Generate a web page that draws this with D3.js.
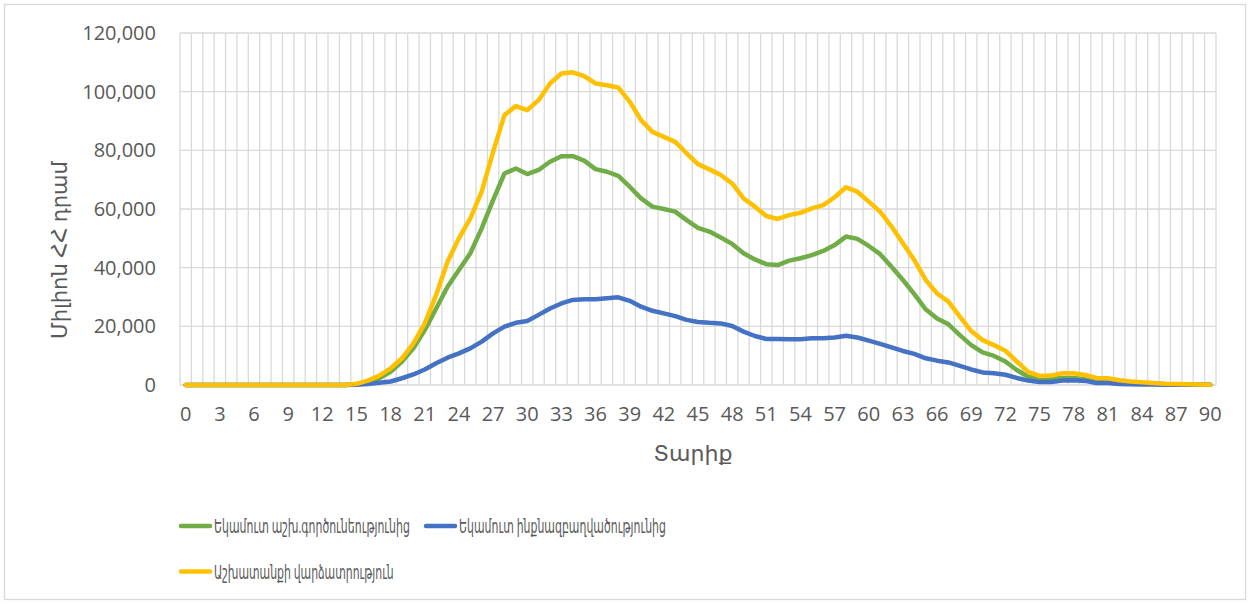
<!DOCTYPE html>
<html>
<head>
<meta charset="utf-8">
<script src="https://cdn.jsdelivr.net/npm/d3@7"></script>
<style>
  body { margin: 0; background: #fff; }
  svg { display: block; font-family: "Open Sans", "DejaVu Sans", sans-serif; }
</style>
</head>
<body>
<svg width="1250" height="604"></svg>
<script>
// categories: age 0..90
const ages = d3.range(0, 91);
const yTicks = [0, 20000, 40000, 60000, 80000, 100000, 120000];
const xTickAges = d3.range(0, 91, 3);

const seriesNames = [
    "Եկամուտ աշխ.գործունեությունից",
    "Եկամուտ ինքնազբաղվածությունից",
    "Աշխատանքի վարձատրություն"
];
const seriesColors = ["#70AD47", "#4472C4", "#FFC000"];

// wage employment income (green)
const wageIncome = [
    0, 0, 0, 0, 0, 0, 0, 0, 0, 0, 0, 0, 0, 0, 0,
    300, 1100, 2300, 4500, 8000, 12500, 18700, 26100, 33500, 39200,
    44900, 53400, 63000, 72100, 73800, 71900, 73300, 76100, 78000, 78000,
    76500, 73600, 72700, 71300, 67600, 63600, 60800, 60000, 59100, 56200,
    53600, 52300, 50300, 48100, 44900, 42800, 41200, 40900, 42400, 43200,
    44300, 45700, 47700, 50600, 49800, 47400, 44600, 40300, 35800, 31000,
    25800, 22700, 20700, 17000, 13600, 11100, 9900, 8000, 5100, 2800,
    1900, 2100, 2400, 2400, 2000, 1700, 1600, 1200, 1000, 700,
    500, 300, 200, 150, 100, 50
];

// self-employment income (blue)
const selfIncome = [
    0, 0, 0, 0, 0, 0, 0, 0, 0, 0, 0, 0, 0, 0, 0,
    50, 300, 800, 1200, 2300, 3600, 5300, 7400, 9300, 10800,
    12500, 14800, 17600, 19900, 21200, 21800, 23900, 26100, 27800, 29000,
    29200, 29200, 29600, 29900, 28700, 26700, 25300, 24400, 23500, 22200,
    21500, 21200, 21000, 20100, 18200, 16700, 15700, 15700, 15600, 15600,
    15900, 15900, 16200, 16800, 16200, 15100, 14000, 12800, 11600, 10600,
    9100, 8300, 7700, 6500, 5300, 4300, 4000, 3500, 2400, 1500,
    1000, 1000, 1500, 1600, 1400, 700, 700, 350, 250, 200,
    150, 100, 100, 80, 50, 50
];

// labour compensation (yellow)
const labourPay = [
    0, 0, 0, 0, 0, 0, 0, 0, 0, 0, 0, 0, 0, 0, 0,
    400, 1500, 3200, 5700, 9100, 14200, 21000, 30700, 42000, 50000,
    56800, 65900, 79500, 92000, 95100, 93700, 97100, 102800, 106200, 106600,
    105300, 102800, 102200, 101400, 96600, 90300, 86300, 84600, 82900, 79000,
    75300, 73500, 71600, 68700, 63600, 60800, 57600, 56600, 57900, 58700,
    60200, 61300, 64000, 67400, 65900, 62500, 59100, 54000, 48300, 42600,
    35800, 31200, 28400, 23300, 18400, 15300, 13600, 11700, 8000, 4500,
    3100, 3200, 4000, 4000, 3400, 2400, 2300, 1600, 1200, 900,
    700, 450, 350, 250, 150, 100
];

const seriesValues = [wageIncome, selfIncome, labourPay];

const plotLeft = 180, plotRight = 1216, plotTop = 33, plotBottom = 385;
const textColor = "#595959";
const gridColor = "#d9d9d9";

const svg = d3.select("svg");

// chart border
svg.append("rect")
    .attr("x", 4.5).attr("y", 4.5)
    .attr("width", 1241).attr("height", 595)
    .attr("fill", "#fff")
    .attr("stroke", gridColor)
    .attr("stroke-width", 1.3);

const x = d3.scaleBand()
    .domain(ages)
    .range([plotLeft, plotRight])
    .padding(0);
const xc = a => x(a) + x.bandwidth() / 2;

const y = d3.scaleLinear()
    .domain([0, 120000])
    .range([plotBottom, plotTop]);

// vertical gridlines at category edges
const edges = ages.map(a => x(a)).concat([plotRight]);
svg.append("g")
    .selectAll("line")
    .data(edges)
    .enter().append("line")
    .attr("x1", d => d).attr("x2", d => d)
    .attr("y1", plotTop).attr("y2", plotBottom)
    .attr("stroke", gridColor)
    .attr("stroke-width", 1.3);

// horizontal gridlines
svg.append("g")
    .selectAll("line")
    .data(yTicks)
    .enter().append("line")
    .attr("x1", plotLeft).attr("x2", plotRight)
    .attr("y1", d => y(d)).attr("y2", d => y(d))
    .attr("stroke", gridColor)
    .attr("stroke-width", 1.3);

// Y axis labels
const yAxisCall = d3.axisLeft(y)
    .tickValues(yTicks)
    .tickSize(0)
    .tickPadding(24)
    .tickFormat(d3.format(","));
const gy = svg.append("g")
    .attr("transform", `translate(${plotLeft}, 0)`)
    .call(yAxisCall)
    .attr("font-family", null);
gy.select(".domain").remove();
gy.selectAll("text")
    .attr("font-size", "20px")
    .attr("fill", textColor);

// X axis labels
const xAxisCall = d3.axisBottom(x)
    .tickValues(xTickAges)
    .tickSize(0)
    .tickPadding(22);
const gx = svg.append("g")
    .attr("transform", `translate(0, ${plotBottom})`)
    .call(xAxisCall)
    .attr("font-family", null);
gx.select(".domain").remove();
gx.selectAll("text")
    .attr("font-size", "20px")
    .attr("fill", textColor);

// squeeze a text horizontally to a given width (armenian fallback font is wide)
function fitText(sel, tx, ty, targetW, rotate) {
    const w = sel.node().getComputedTextLength();
    const k = targetW / w;
    sel.attr("transform", `translate(${tx}, ${ty})` + (rotate ? " rotate(-90)" : "") + ` scale(${k}, 1)`);
}

// Y title
const yTitle = svg.append("text")
    .attr("text-anchor", "middle")
    .attr("font-size", "21px")
    .attr("fill", textColor)
    .text("Միլիոն ՀՀ դրամ");
fitText(yTitle, 67, 250, 178, true);

// X title
const xTitle = svg.append("text")
    .attr("text-anchor", "middle")
    .attr("font-size", "21px")
    .attr("fill", textColor)
    .text("Տարիք");
fitText(xTitle, 693, 461, 79, false);

// lines
const line = d3.line()
    .x((d, i) => xc(ages[i]))
    .y(d => y(d));

seriesValues.forEach((vals, i) => {
    svg.append("path")
        .datum(vals)
        .attr("d", line)
        .attr("fill", "none")
        .attr("stroke", seriesColors[i])
        .attr("stroke-width", 4.5)
        .attr("stroke-linejoin", "round")
        .attr("stroke-linecap", "round");
});

// legend
const legendPos = [[181, 526], [426, 526], [181, 571.5]];
const legendTextWidth = [196, 207, 180];
seriesNames.forEach((name, i) => {
    const [lx, ly] = legendPos[i];
    svg.append("line")
        .attr("x1", lx).attr("x2", lx + 29)
        .attr("y1", ly).attr("y2", ly)
        .attr("stroke", seriesColors[i])
        .attr("stroke-width", 4.5)
        .attr("stroke-linecap", "round");
    const t = svg.append("text")
        .attr("font-size", "20px")
        .attr("fill", textColor)
        .text(name);
    fitText(t, lx + 33, ly + 7, legendTextWidth[i], false);
});
</script>
</body>
</html>
